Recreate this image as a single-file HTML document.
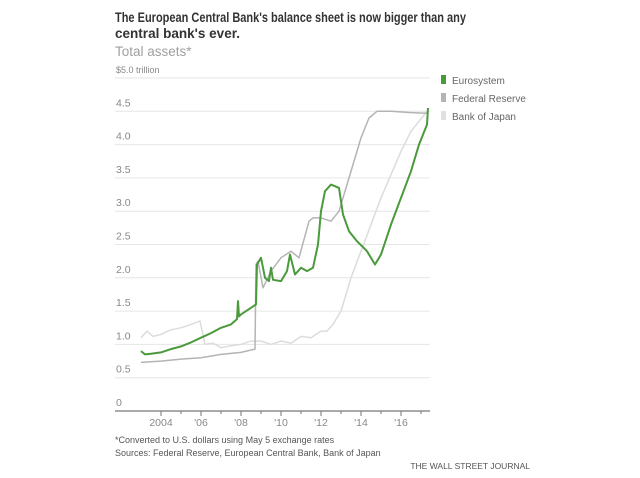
<!DOCTYPE html>
<html><head><meta charset="utf-8"><style>
body{margin:0;background:#fff;}
svg{display:block;font-family:"Liberation Sans",sans-serif;}
</style></head><body>
<svg width="640" height="478" viewBox="0 0 640 478">
<text x="115" y="22" font-size="13.5" font-weight="bold" fill="#333" textLength="351" lengthAdjust="spacingAndGlyphs">The European Central Bank's balance sheet is now bigger than any</text>
<text x="115" y="38" font-size="13.5" font-weight="bold" fill="#333" textLength="125" lengthAdjust="spacingAndGlyphs">central bank's ever.</text>
<text x="115" y="56" font-size="13.5" fill="#a0a0a0">Total assets*</text>
<g id="grid"></g>
<g id="series"></g>
<g id="legend"></g>
<text x="115" y="443" font-size="9" fill="#555">*Converted to U.S. dollars using May 5 exchange rates</text>
<text x="115" y="456" font-size="9" fill="#555">Sources: Federal Reserve, European Central Bank, Bank of Japan</text>
<text x="530" y="469" font-size="8.5" fill="#555" text-anchor="end">THE WALL STREET JOURNAL</text>
</svg>
<script>
const yTicks=[0,0.5,1.0,1.5,2.0,2.5,3.0,3.5,4.0,4.5,5.0];
const yTickLabels=["0","0.5","1.0","1.5","2.0","2.5","3.0","3.5","4.0","4.5","$5.0 trillion"];
const xTickYears=[2004,2006,2008,2010,2012,2014,2016];
const xTickLabels=["2004","'06","'08","'10","'12","'14","'16"];
const ecbX=[2003.0,2003.2,2003.5,2004,2004.5,2005,2005.5,2006,2006.5,2007,2007.5,2007.8,2007.85,2007.9,2008,2008.5,2008.75,2008.8,2009.0,2009.2,2009.4,2009.5,2009.6,2010,2010.3,2010.45,2010.7,2011,2011.3,2011.6,2011.85,2012.0,2012.2,2012.5,2012.9,2013.1,2013.4,2013.8,2014.3,2014.7,2015.0,2015.5,2016.0,2016.5,2016.9,2017.3,2017.35];
const ecbV=[0.9,0.85,0.86,0.88,0.93,0.97,1.03,1.1,1.17,1.25,1.3,1.38,1.65,1.42,1.45,1.55,1.6,2.2,2.3,2.0,1.95,2.15,1.97,1.95,2.1,2.35,2.05,2.15,2.1,2.15,2.5,3.0,3.3,3.4,3.35,2.95,2.7,2.55,2.4,2.2,2.35,2.8,3.2,3.6,4.0,4.3,4.55];
const fedX=[2003.0,2004,2005,2006,2007,2008,2008.7,2008.75,2008.85,2009.1,2009.5,2010,2010.5,2010.9,2011.4,2011.6,2012,2012.5,2012.9,2013.3,2013.7,2014,2014.4,2014.8,2015.5,2016.5,2017.3];
const fedV=[0.73,0.75,0.78,0.8,0.85,0.88,0.93,2.2,2.25,1.85,2.1,2.3,2.4,2.3,2.85,2.9,2.9,2.85,3.0,3.4,3.8,4.1,4.4,4.5,4.5,4.48,4.47];
const bojX=[2003.0,2003.3,2003.6,2004,2004.5,2005,2005.5,2005.95,2006.2,2006.6,2007,2007.5,2008,2008.5,2009,2009.5,2010,2010.5,2011,2011.5,2012,2012.3,2012.6,2013,2013.5,2014,2014.5,2015,2015.5,2016,2016.5,2017.3];
const bojV=[1.1,1.2,1.12,1.15,1.22,1.25,1.3,1.35,1.0,1.02,0.95,0.98,1.0,1.05,1.05,1.0,1.05,1.02,1.12,1.1,1.2,1.2,1.3,1.5,2.0,2.4,2.8,3.2,3.55,3.9,4.2,4.5];
const NS="http://www.w3.org/2000/svg";
const xS=yr=>161+(yr-2004)*20;
const yS=v=>411-v*66.6;
function mk(tag,attrs,parent){const e=document.createElementNS(NS,tag);for(const k in attrs)e.setAttribute(k,attrs[k]);parent.appendChild(e);return e;}
const grid=document.getElementById('grid');
yTicks.forEach((t,i)=>{
 if(t>0){const l=mk('line',{x1:115,x2:430,y1:yS(t),y2:yS(t),stroke:'#e6e6e6','stroke-width':1},grid);
 
 }
 const tx=mk('text',{x:116,y:yS(t)-5,'font-size':i==10?9:10.5,fill:'#888'},grid);tx.textContent=yTickLabels[i];
 
 
});
const ax=mk('line',{x1:115,x2:430,y1:411,y2:411,stroke:'#777','stroke-width':1.2},grid);


for(let yr=2004;yr<=2017;yr++){const t=mk('line',{x1:xS(yr),x2:xS(yr),y1:411,y2:yr%2==0?416:414,stroke:'#777'},grid);
 
 }
xTickYears.forEach((yr,i)=>{const tx=mk('text',{x:xS(yr),y:426,'font-size':10.5,fill:'#888','text-anchor':'middle'},grid);tx.textContent=xTickLabels[i];
 
 });
const ser=document.getElementById('series');
function line(xs,vs,color,w,name){const d=xs.map((x,i)=>(i?'L':'M')+xS(x).toFixed(1)+','+yS(vs[i]).toFixed(1)).join('');
 const p=mk('path',{d:d,fill:'none',stroke:color,'stroke-width':w,'stroke-linejoin':'round'},ser);
 
 }
line(bojX,bojV,'#dcdcdc',1.5,'bank-of-japan-line');
line(fedX,fedV,'#b4b4b4',1.5,'federal-reserve-line');
line(ecbX,ecbV,'#4a9a3c',2,'eurosystem-line');
const lg=document.getElementById('legend');
const legNames=["Eurosystem","Federal Reserve","Bank of Japan"];
const legColors=['#4a9a3c','#b4b4b4','#e0e0e0'];
legNames.forEach((n,i)=>{const y=81+i*18;
 const r=mk('rect',{x:441,y:y-6,width:5,height:9,fill:legColors[i]},lg);
 
 
 const t=mk('text',{x:452,y:y+3,'font-size':10,fill:'#666'},lg);t.textContent=n;
 
 });
</script>
</body></html>
